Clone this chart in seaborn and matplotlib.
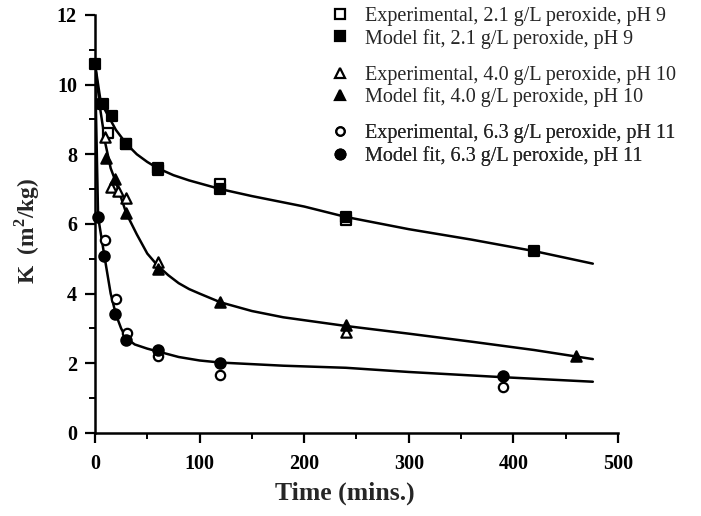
import matplotlib
matplotlib.use('Agg')
import matplotlib.pyplot as plt
import seaborn as sns
from matplotlib.ticker import MultipleLocator
from matplotlib.lines import Line2D

# ---- data ----
# 2.1 g/L peroxide, pH 9
t_exp1 = [12, 30, 60, 120, 240]
k_exp1 = [8.6, 8.3, 7.55, 7.15, 6.1]
t_fit1 = [0, 8, 16, 30, 60, 120, 240, 420]
k_fit1 = [10.6, 9.45, 9.1, 8.3, 7.6, 7.0, 6.2, 5.22]
c1_t = [0, 5, 10, 20, 30, 40, 50, 60, 75, 90, 120, 150, 200, 240, 300, 360, 420, 476]
c1_k = [10.6, 9.6, 9.25, 8.7, 8.3, 8.0, 7.78, 7.6, 7.4, 7.25, 7.0, 6.8, 6.5, 6.2, 5.85, 5.55, 5.22, 4.86]

# 4.0 g/L peroxide, pH 10
t_exp2 = [10, 15, 22, 30, 60, 240]
k_exp2 = [8.5, 7.05, 6.95, 6.75, 4.9, 2.9]
t_fit2 = [11, 19, 30, 60, 120, 240, 460]
k_fit2 = [7.9, 7.3, 6.3, 4.7, 3.75, 3.1, 2.2]
c2_t = [0, 5, 10, 15, 20, 30, 40, 50, 60, 70, 80, 90, 100, 120, 150, 180, 240, 300, 360, 420, 476]
c2_k = [10.6, 9.3, 8.3, 7.6, 7.2, 6.3, 5.7, 5.15, 4.8, 4.53, 4.3, 4.13, 4.0, 3.75, 3.5, 3.32, 3.07, 2.85, 2.62, 2.38, 2.12]

# 6.3 g/L peroxide, pH 11
t_exp3 = [10, 20, 31, 60, 120, 390]
k_exp3 = [5.55, 3.85, 2.87, 2.2, 1.65, 1.33]
t_fit3 = [3, 9, 19, 30, 60, 120, 390]
k_fit3 = [6.2, 5.08, 3.42, 2.67, 2.38, 2.0, 1.62]
c3_t = [0, 3, 9, 15, 20, 25, 30, 38, 50, 60, 80, 100, 120, 180, 240, 300, 390, 476]
c3_k = [10.6, 6.2, 5.08, 4.0, 3.4, 3.0, 2.72, 2.54, 2.42, 2.34, 2.18, 2.08, 2.02, 1.93, 1.87, 1.75, 1.6, 1.47]

labels = [
    "Experimental, 2.1 g/L peroxide, pH 9",
    "Model fit, 2.1 g/L peroxide, pH 9",
    "Experimental, 4.0 g/L peroxide, pH 10",
    "Model fit, 4.0 g/L peroxide, pH 10",
    "Experimental, 6.3 g/L peroxide, pH 11",
    "Model fit, 6.3 g/L peroxide, pH 11",
]
x_ticks = [0, 100, 200, 300, 400, 500]
y_ticks = [0, 2, 4, 6, 8, 10, 12]

# ---- style ----
sns.set_style('ticks')
plt.rcParams['font.family'] = ['Liberation Serif', 'DejaVu Serif']
plt.rcParams['mathtext.fontset'] = 'custom'
plt.rcParams['mathtext.rm'] = 'Liberation Serif:bold'

fig = plt.figure(figsize=(7.01, 5.16), dpi=100)
ax = fig.add_axes([0.1355, 0.161, 0.746, 0.81])

for ct, ck in [(c1_t, c1_k), (c2_t, c2_k), (c3_t, c3_k)]:
    sns.lineplot(x=ct, y=ck, ax=ax, color='black', linewidth=1.8,
                 sort=False, estimator=None, zorder=2)

mew = 1.6
series = [
    (t_exp1, k_exp1, 's', 'white', 60),
    (t_fit1, k_fit1, 's', 'black', 60),
    (t_exp2, k_exp2, '^', 'white', 55),
    (t_fit2, k_fit2, '^', 'black', 55),
    (t_exp3, k_exp3, 'o', 'white', 45),
    (t_fit3, k_fit3, 'o', 'black', 55),
]
for t, k, m, fc, s in series:
    sns.scatterplot(x=t, y=k, ax=ax, marker=m, s=s, facecolor=fc,
                    edgecolor='black', linewidth=mew, zorder=3, clip_on=False)

ax.set_xlim(0, 500)
ax.set_ylim(0, 12)
ax.set_xticks(x_ticks)
ax.set_yticks(y_ticks)
ax.xaxis.set_minor_locator(MultipleLocator(50))
ax.yaxis.set_minor_locator(MultipleLocator(1))
ax.tick_params(which='major', direction='out', length=7, width=1.6,
               labelsize=14.5, color='black', labelcolor='black')
ax.tick_params(axis='x', which='major', pad=8)
ax.tick_params(axis='y', which='major', pad=6)
ax.tick_params(which='minor', direction='out', length=4, width=1.4, color='black')
for lbl in ax.get_xticklabels() + ax.get_yticklabels():
    lbl.set_fontweight('bold')

sns.despine(ax=ax)
for sp in ['left', 'bottom']:
    ax.spines[sp].set_linewidth(1.8)
    ax.spines[sp].set_color('black')

ax.set_xlabel('Time (mins.)', fontsize=18.5, fontweight='bold')
ax.xaxis.set_label_coords(0.478, -0.117)
ax.set_ylabel(r'K  (m$^2$/kg)', fontsize=16.8, fontweight='bold')
ax.yaxis.set_label_coords(-0.101, 0.483)

# ---- legend, three groups ----
def handle(m, fc, ms):
    return Line2D([], [], marker=m, linestyle='none', markerfacecolor=fc,
                  markeredgecolor='black', markeredgewidth=mew, markersize=ms)

groups = [
    ([handle('s', 'white', 7), handle('s', 'black', 7.5)], labels[0:2], 0.987),
    ([handle('^', 'white', 7), handle('^', 'black', 7.5)], labels[2:4], 0.873),
    ([handle('o', 'white', 6), handle('o', 'black', 7)], labels[4:6], 0.759),
]
for hs, lb, ytop in groups:
    leg = ax.legend(hs, lb, loc='upper left', bbox_to_anchor=(0.4708, ytop),
                    bbox_transform=fig.transFigure, frameon=False,
                    fontsize=14.5, handlelength=1.0, handletextpad=0.75,
                    borderpad=0, borderaxespad=0, labelspacing=0.14)
    ax.add_artist(leg)

fig.savefig('out.png', dpi=100)
